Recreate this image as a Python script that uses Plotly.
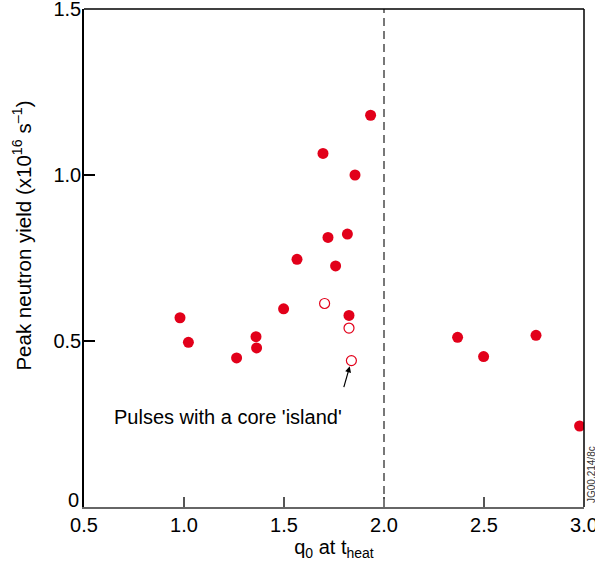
import plotly.graph_objects as go

# Filled points (normal pulses)
q0_solid = [1.933, 1.695, 1.855, 1.817, 1.72, 1.565, 1.758, 1.498, 1.825, 0.98, 1.36, 1.022, 1.363, 1.263,
            2.368, 2.498, 2.76, 2.978]
yield_solid = [1.180, 1.065, 1.000, 0.822, 0.812, 0.746, 0.726, 0.597, 0.577, 0.570, 0.513, 0.496, 0.479, 0.449,
               0.511, 0.453, 0.517, 0.244]
# Open points (pulses with a core 'island')
q0_open = [1.703, 1.825, 1.837]
yield_open = [0.613, 0.539, 0.441]

x_ticks = [0.5, 1.0, 1.5, 2.0, 2.5, 3.0]
x_ticktext = ["0.5", "1.0", "1.5", "2.0", "2.5", "3.0"]
y_ticks = [0, 0.5, 1.0, 1.5]
y_ticktext = ["0", "0.5", "1.0", "1.5"]
q_limit = 2.0

RED = "#E2001A"
FONT = "Liberation Sans, Arial, sans-serif"

fig = go.Figure()
fig.add_trace(go.Scatter(x=q0_solid, y=yield_solid, mode="markers",
                         marker=dict(size=11, color=RED, line=dict(width=0)), showlegend=False))
fig.add_trace(go.Scatter(x=q0_open, y=yield_open, mode="markers",
                         marker=dict(size=10, color="white", line=dict(width=1.2, color=RED)), showlegend=False))

fig.add_shape(type="line", x0=q_limit, x1=q_limit, y0=0, y1=1, xref="x", yref="paper",
              line=dict(color="#777777", width=2, dash="8px,5px"))
# top and right frame
fig.add_shape(type="line", x0=0, x1=1, y0=1, y1=1, xref="paper", yref="paper",
              line=dict(color="black", width=1.5))
fig.add_shape(type="line", x0=1, x1=1, y0=0, y1=1, xref="paper", yref="paper",
              line=dict(color="black", width=1.5))

fig.add_annotation(x=q0_open[2], y=yield_open[2], ax=-8, ay=28, axref="pixel", ayref="pixel",
                   text="", showarrow=True, arrowhead=2, arrowsize=1, arrowwidth=1.2,
                   arrowcolor="black", standoff=6)
fig.add_annotation(x=1.22, y=0.271, xref="x", yref="y", text="Pulses with a core 'island'",
                   showarrow=False, font=dict(size=20, color="black", family=FONT))
fig.add_annotation(x=1.0, y=0.0, xref="paper", yref="paper", xshift=0, yshift=2,
                   text="JG00.214/8c", textangle=-90, showarrow=False, xanchor="left", yanchor="bottom",
                   font=dict(size=10, color="#333333", family=FONT))
# "0" tick label, lifted slightly above the corner as in the original
fig.add_annotation(x=0, y=y_ticks[0], xref="paper", yref="y", text=y_ticktext[0], showarrow=False,
                   xanchor="right", yanchor="middle", xshift=-3, yshift=7,
                   font=dict(size=20, color="black", family=FONT))
# y-axis title (placed as annotation to match original offset)
fig.add_annotation(x=0, y=0.545, xref="paper", yref="paper", xshift=-62,
                   text="Peak neutron yield (x10<sup>16</sup> s<sup>\u20131</sup>)", textangle=-90,
                   showarrow=False, xanchor="center", yanchor="middle",
                   font=dict(size=20.5, color="black", family=FONT))

fig.update_layout(
    width=595, height=570,
    margin=dict(l=84, r=11, t=9, b=63),
    plot_bgcolor="white", paper_bgcolor="white",
    font=dict(family=FONT, size=20, color="black"),
    xaxis=dict(range=[0.5, 3.0], tickvals=x_ticks, ticktext=x_ticktext, ticks="inside", ticklen=10,
               tickcolor="#555555", tickwidth=1.5, showgrid=False, zeroline=False, showline=True,
               linecolor="#666666", linewidth=2, ticklabeloverflow="allow", ticklabelstandoff=-1,
               automargin=False,
               title=dict(text="q<sub>0</sub> at t<sub>heat</sub>", standoff=1, font=dict(size=20))),
    yaxis=dict(range=[0, 1.5], tickvals=y_ticks[1:], ticktext=y_ticktext[1:], ticks="inside", ticklen=11,
               tickcolor="black", tickwidth=1.5, showgrid=False, zeroline=False, showline=True,
               linecolor="black", linewidth=1.5, ticklabeloverflow="allow", ticklabelstandoff=-3,
               automargin=False),
)

fig.write_html("out.html")
